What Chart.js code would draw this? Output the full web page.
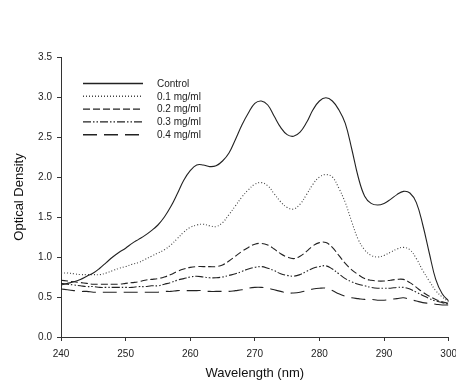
<!DOCTYPE html>
<html>
<head>
<meta charset="utf-8">
<script src="https://cdn.jsdelivr.net/npm/chart.js@4.4.0/dist/chart.umd.min.js"></script>
<style>
  html, body { margin: 0; padding: 0; background: #fff; overflow: hidden; }
</style>
</head>
<body>
<canvas id="myChart" width="464" height="383"></canvas>
<script>
// wavelength (nm)
const wavelengths = [240, 241, 242, 243, 244, 245, 246, 247, 248, 249,
    250, 251, 252, 253, 254, 255, 256, 257, 258, 259,
    260, 261, 262, 263, 264, 265, 266, 267, 268, 269,
    270, 271, 272, 273, 274, 275, 276, 277, 278, 279,
    280, 281, 282, 283, 284, 285, 286, 287, 288, 289,
    290, 291, 292, 293, 294, 295, 296, 297, 298, 299, 300]

const seriesNames = ['Control', '0.1 mg/ml', '0.2 mg/ml', '0.3 mg/ml', '0.4 mg/ml']

// optical density
const control = [0.65, 0.67, 0.69, 0.72, 0.76, 0.80, 0.86, 0.93, 1.00, 1.06,
    1.11, 1.17, 1.22, 1.27, 1.33, 1.40, 1.50, 1.63, 1.79, 1.96,
    2.08, 2.15, 2.15, 2.13, 2.14, 2.20, 2.30, 2.47, 2.65, 2.80,
    2.92, 2.95, 2.90, 2.76, 2.62, 2.53, 2.51, 2.56, 2.68, 2.84,
    2.95, 2.99, 2.95, 2.84, 2.67, 2.35, 2.00, 1.76, 1.67, 1.65,
    1.67, 1.72, 1.78, 1.82, 1.80, 1.68, 1.40, 1.05, 0.72, 0.54, 0.45]

const conc01 = [0.80, 0.80, 0.79, 0.78, 0.78, 0.78, 0.78, 0.80, 0.83, 0.86,
    0.88, 0.91, 0.93, 0.97, 1.01, 1.05, 1.09, 1.15, 1.23, 1.31,
    1.37, 1.40, 1.41, 1.39, 1.38, 1.43, 1.53, 1.64, 1.75, 1.84,
    1.91, 1.93, 1.89, 1.79, 1.69, 1.62, 1.60, 1.66, 1.78, 1.91,
    2.00, 2.03, 2.00, 1.86, 1.68, 1.44, 1.22, 1.09, 1.02, 1.00,
    1.02, 1.06, 1.10, 1.12, 1.09, 0.98, 0.83, 0.70, 0.58, 0.50, 0.44]

const conc02 = [0.71, 0.70, 0.69, 0.68, 0.67, 0.66, 0.66, 0.66, 0.66, 0.66,
    0.67, 0.68, 0.69, 0.71, 0.72, 0.73, 0.75, 0.78, 0.82, 0.85,
    0.87, 0.88, 0.88, 0.88, 0.88, 0.90, 0.95, 1.01, 1.07, 1.12,
    1.16, 1.17, 1.15, 1.10, 1.04, 1.00, 0.98, 1.01, 1.07, 1.14,
    1.18, 1.18, 1.12, 1.02, 0.92, 0.84, 0.78, 0.73, 0.71, 0.70,
    0.70, 0.71, 0.72, 0.72, 0.68, 0.62, 0.56, 0.51, 0.47, 0.44, 0.42]

const conc03 = [0.67, 0.66, 0.65, 0.64, 0.63, 0.63, 0.62, 0.62, 0.62, 0.62,
    0.62, 0.62, 0.63, 0.63, 0.64, 0.64, 0.66, 0.68, 0.71, 0.73,
    0.75, 0.76, 0.75, 0.74, 0.74, 0.75, 0.77, 0.79, 0.82, 0.85,
    0.87, 0.88, 0.86, 0.83, 0.79, 0.77, 0.76, 0.78, 0.82, 0.86,
    0.88, 0.89, 0.85, 0.79, 0.73, 0.69, 0.66, 0.64, 0.62, 0.61,
    0.61, 0.61, 0.62, 0.62, 0.60, 0.56, 0.52, 0.48, 0.45, 0.43, 0.41]

const conc04 = [0.60, 0.59, 0.58, 0.57, 0.57, 0.56, 0.56, 0.56, 0.56, 0.56,
    0.56, 0.56, 0.56, 0.56, 0.56, 0.56, 0.57, 0.57, 0.58, 0.58,
    0.58, 0.58, 0.58, 0.57, 0.57, 0.57, 0.57, 0.58, 0.59, 0.61,
    0.62, 0.62, 0.61, 0.59, 0.57, 0.55, 0.55, 0.56, 0.58, 0.60,
    0.61, 0.61, 0.58, 0.54, 0.51, 0.49, 0.48, 0.47, 0.47, 0.46,
    0.46, 0.47, 0.48, 0.49, 0.47, 0.45, 0.43, 0.42, 0.41, 0.40, 0.40]

const allSeries = [control, conc01, conc02, conc03, conc04]

// line styles: solid, dotted, short dash, dash-dot-dot, long dash
const dashes = [[], [1, 2], [7, 3], [8, 2, 1.5, 2, 1.5, 2], [14, 7]]
const colors = ['#222', '#444', '#222', '#222', '#222']

const fontFamily = '"Liberation Sans", Arial, sans-serif'

// legend drawn inside the plot, top left
let insideLegend = {
    id: 'insideLegend',
    afterDraw: (chart) => {
        let ctx = chart.ctx
        ctx.save()
        ctx.font = '10px ' + fontFamily
        ctx.textBaseline = 'middle'
        ctx.fillStyle = '#222'
        chart.data.datasets.forEach((ds, i) => {
            let y = 83.5 + i * 12.8
            ctx.beginPath()
            ctx.setLineDash(ds.borderDash)
            ctx.strokeStyle = ds.borderColor
            ctx.lineWidth = 1.4
            ctx.moveTo(83, y)
            ctx.lineTo(143, y)
            ctx.stroke()
            ctx.setLineDash([])
            ctx.fillText(ds.label, 157, y + 0.5)
        })
        ctx.restore()
    }
}

let ctx = document.getElementById('myChart').getContext('2d')

let myChart = new Chart(ctx, {
    type: 'line',
    data: {
        labels: wavelengths,
        datasets: allSeries.map((values, i) => ({
            label: seriesNames[i],
            data: values.map((v, j) => ({ x: wavelengths[j], y: v })),
            borderColor: colors[i],
            borderWidth: 1.1,
            borderDash: dashes[i],
            pointRadius: 0,
            fill: false,
            tension: 0.4
        }))
    },
    options: {
        responsive: false,
        animation: false,
        layout: {
            padding: { top: 57, left: 6, right: 2, bottom: 2 }
        },
        plugins: {
            legend: { display: false },
            tooltip: { enabled: false }
        },
        scales: {
            x: {
                type: 'linear',
                min: 240,
                max: 300,
                ticks: {
                    stepSize: 10,
                    color: '#222',
                    padding: 7,
                    font: { family: fontFamily, size: 10 }
                },
                grid: { drawOnChartArea: false, color: '#333', tickLength: 4 },
                border: { color: '#333' },
                title: {
                    display: true,
                    text: 'Wavelength (nm)',
                    color: '#111',
                    font: { family: fontFamily, size: 13 },
                    padding: { top: 0, bottom: 0 }
                },
                afterFit: (scale) => { scale.height = 44 }
            },
            y: {
                min: 0,
                max: 3.5,
                ticks: {
                    stepSize: 0.5,
                    color: '#222',
                    padding: 5,
                    font: { family: fontFamily, size: 10 },
                    callback: (v) => v.toFixed(1)
                },
                grid: { drawOnChartArea: false, color: '#333', tickLength: 4 },
                border: { color: '#333' },
                title: {
                    display: true,
                    text: 'Optical Density',
                    color: '#111',
                    font: { family: fontFamily, size: 13 },
                    padding: { top: 6, bottom: 0 }
                },
                afterFit: (scale) => { scale.width = 55 }
            }
        }
    },
    plugins: [insideLegend]
})
</script>
</body>
</html>
